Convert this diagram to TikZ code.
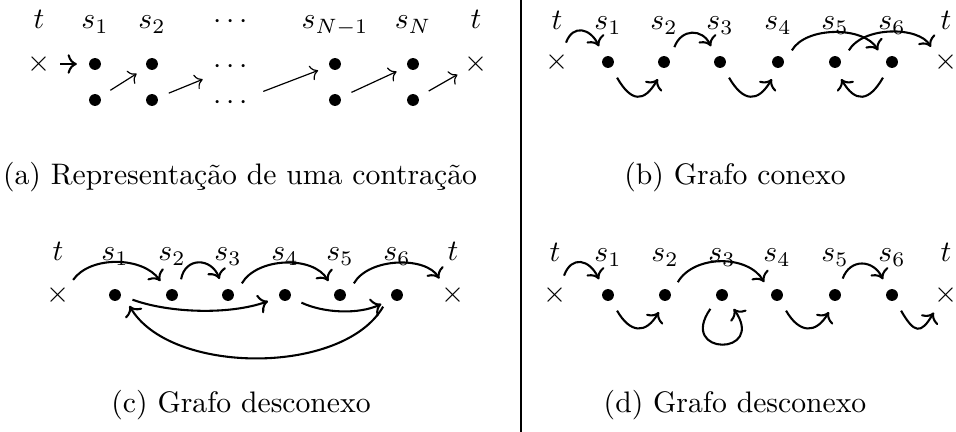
\documentclass[tikz,border=0pt]{standalone}
\usepackage{amsmath}
\usepackage{tikz}
\usetikzlibrary{arrows.meta, positioning, calc}
\tikzset{
	dot/.style={circle, fill=black, inner sep=0pt, minimum size=4pt, outer sep=4.1pt},
	cross/.style={circle, inner sep=0pt, minimum size=14pt},
	lbl/.style={anchor=base, inner sep=0pt},
	caption/.style={anchor=base, inner sep=0pt},
	% connectors
	jump/.style={->, line width=0.7pt},
	link/.style={->, thin},
}

\begin{document}
\begin{tikzpicture}[x=0.337pt, y=0.337pt]
	\useasboundingbox (0,0) rectangle (956,-432);
	% (a) contraction
	\node[cross] (xa1) at (39,-64) {$\times$};
	\node[dot] (ta1) at (95,-64) {};
	\node[dot] (ta2) at (152,-64) {};
	\node (tdots) at (233,-67) {$\cdots$};
	\node[dot] (ta3) at (335,-64) {};
	\node[dot] (ta4) at (413,-64) {};
	\node[cross] (xa2) at (476,-64) {$\times$};
	\node[dot] (ba1) at (95,-100) {};
	\node[dot] (ba2) at (152,-100) {};
	\node (bdots) at (233,-103) {$\cdots$};
	\node[dot] (ba3) at (335,-100) {};
	\node[dot] (ba4) at (413,-100) {};
	\node[lbl] at (39,-29) {$t$};
	\node[lbl] at (95,-29) {$s_1$};
	\node[lbl] at (152,-29) {$s_2$};
	\node[lbl] at (233,-29) {$\cdots$};
	\node[lbl] at (335,-29) {$s_{N-1}$};
	\node[lbl] at (413,-29) {$s_N$};
	\node[lbl] at (476,-29) {$t$};
	\draw[jump] (xa1) -- (ta1);
	\draw[link] (ba1) -- (ta2);
	\draw[link] (ba2) -- (tdots);
	\draw[link] (bdots) -- (ta3);
	\draw[link] (ba3) -- (ta4);
	\draw[link] (ba4) -- (xa2);
	\node[caption] (capa) at (240,-185) {(a) Representação de uma contração};

	% (b) connected graph
	\node[cross] (xb1) at (557,-62) {$\times$};
	\node[dot] (b1) at (608,-62) {};
	\node[dot] (b2) at (664,-62) {};
	\node[dot] (b3) at (720,-62) {};
	\node[dot] (b4) at (778,-62) {};
	\node[dot] (b5) at (835,-62) {};
	\node[dot] (b6) at (892,-62) {};
	\node[cross] (xb2) at (946,-62) {$\times$};
	\node[lbl] at (557,-30) {$t$};
	\node[lbl] at (608,-30) {$s_1$};
	\node[lbl] at (664,-30) {$s_2$};
	\node[lbl] at (720,-30) {$s_3$};
	\node[lbl] at (778,-30) {$s_4$};
	\node[lbl] at (835,-30) {$s_5$};
	\node[lbl] at (892,-30) {$s_6$};
	\node[lbl] at (946,-30) {$t$};
	\draw[jump] (xb1.65) .. controls +(70:20) and +(115:20) .. (b1.120);
	\draw[jump] (b2.55) .. controls +(70:20) and +(115:20) .. (b3.120);
	\draw[jump] (b4.40) .. controls +(60:28) and +(120:28) .. (b6.140);
	\draw[jump] (b5.40) .. controls +(60:28) and +(120:24) .. (xb2.135);
	\draw[jump] (b1.-60) .. controls +(-60:28) and +(-120:28) .. (b2.-110);
	\draw[jump] (b3.-60) .. controls +(-60:28) and +(-120:28) .. (b4.-110);
	\draw[jump] (b6.-120) .. controls +(-120:28) and +(-60:28) .. (b5.-70);
	\node[caption] (capb) at (735,-185) {(b) Grafo conexo};

	% (c) disconnected graph
	\node[cross] (xc1) at (58,-295) {$\times$};
	\node[dot] (c1) at (115,-295) {};
	\node[dot] (c2) at (172,-295) {};
	\node[dot] (c3) at (228,-295) {};
	\node[dot] (c4) at (285,-295) {};
	\node[dot] (c5) at (340,-295) {};
	\node[dot] (c6) at (397,-295) {};
	\node[cross] (xc2) at (453,-295) {$\times$};
	\node[lbl] at (58,-261) {$t$};
	\node[lbl] at (115,-261) {$s_1$};
	\node[lbl] at (172,-261) {$s_2$};
	\node[lbl] at (228,-261) {$s_3$};
	\node[lbl] at (285,-261) {$s_4$};
	\node[lbl] at (340,-261) {$s_5$};
	\node[lbl] at (397,-261) {$s_6$};
	\node[lbl] at (453,-261) {$t$};
	\draw[jump] (xc1.45) .. controls +(55:30) and +(125:30) .. (c2.130);
	\draw[jump] (c2.60) .. controls +(80:23) and +(110:23) .. (c3.118);
	\draw[jump] (c3.40) .. controls +(60:30) and +(120:30) .. (c5.130);
	\draw[jump] (c5.40) .. controls +(60:30) and +(120:26) .. (xc2.130);
	\draw[jump] (c1.-15) .. controls +(-20:40) and +(-160:40) .. (c4.-160);
	\draw[jump] (c4.-25) .. controls +(-25:25) and +(-155:25) .. (c6.-150);
	\draw[jump] (c6.-140) .. controls +(-120:80) and +(-60:80) .. (c1.-37);
	\node[caption] (capc) at (241,-412) {(c) Grafo desconexo};

	% (d) disconnected graph with a loop
	\node[cross] (xd1) at (555,-295) {$\times$};
	\node[dot] (d1) at (608,-295) {};
	\node[dot] (d2) at (665,-295) {};
	\node[dot] (d3) at (722,-295) {};
	\node[dot] (d4) at (777,-295) {};
	\node[dot] (d5) at (835,-295) {};
	\node[dot] (d6) at (892,-295) {};
	\node[cross] (xd2) at (946,-295) {$\times$};
	\node[lbl] at (555,-262) {$t$};
	\node[lbl] at (608,-262) {$s_1$};
	\node[lbl] at (665,-262) {$s_2$};
	\node[lbl] at (722,-262) {$s_3$};
	\node[lbl] at (777,-262) {$s_4$};
	\node[lbl] at (835,-262) {$s_5$};
	\node[lbl] at (892,-262) {$s_6$};
	\node[lbl] at (946,-262) {$t$};
	\draw[jump] (xd1.65) .. controls +(70:22) and +(115:22) .. (d1.120);
	\draw[jump] (d2.45) .. controls +(60:32) and +(120:32) .. (d4.135);
	\draw[jump] (d5.65) .. controls +(70:22) and +(115:22) .. (d6.120);
	\draw[jump] (d1.-60) .. controls +(-60:26) and +(-120:26) .. (d2.-110);
	\draw[jump] (d3.-130) .. controls +(-125:58) and +(-55:58) .. (d3.-50);
	\draw[jump] (d4.-60) .. controls +(-60:26) and +(-120:26) .. (d5.-110);
	\draw[jump] (d6.-60) .. controls +(-60:26) and +(-120:26) .. (xd2.-125);
	\node[caption] (capd) at (735,-412) {(d) Grafo desconexo};

	\draw[semithick] (521,0) -- (521,-432);
\end{tikzpicture}
\end{document}
